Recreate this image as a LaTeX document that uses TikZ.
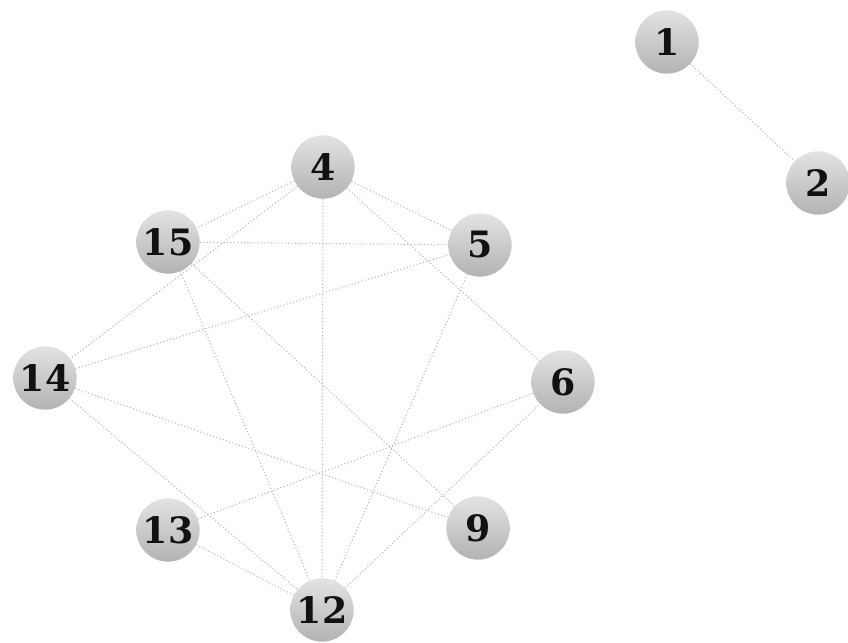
\documentclass[tikz,border=0pt]{standalone}
\usepackage{fontspec}
\setmainfont{DejaVu Serif}
\usepackage{tikz}
\usetikzlibrary{positioning}
\definecolor{ink}{HTML}{111111}
\definecolor{wire}{HTML}{B4B4B4}

\begin{document}
\begin{tikzpicture}[
  x=0.3mm,y=-0.3mm,
  vertex/.style={circle,minimum size=19mm,inner sep=0pt,top color=gray!22,
    bottom color=gray!60,text=ink,font=\fontsize{31}{31}\selectfont\bfseries},
  link/.style={wire,dotted,line width=0.9pt}]
\useasboundingbox (0,0) rectangle (848,643);
\node[vertex] (n1) at (667,42) {1};
\node[vertex] (n2) at (818,183) {2};
\node[vertex] (n4) at (323,167) {4};
\node[vertex] (n15) at (168,242) {15};
\node[vertex] (n5) at (480,245) {5};
\node[vertex] (n14) at (45,378) {14};
\node[vertex] (n6) at (563,382) {6};
\node[vertex] (n13) at (168,530) {13};
\node[vertex] (n9) at (478,528) {9};
\node[vertex] (n12) at (322,610) {12};
\draw[link] (n1) -- (n2);
\draw[link] (n4) -- (n15);
\draw[link] (n4) -- (n5);
\draw[link] (n4) -- (n6);
\draw[link] (n4) -- (n12);
\draw[link] (n4) -- (n14);
\draw[link] (n15) -- (n5);
\draw[link] (n15) -- (n12);
\draw[link] (n15) -- (n9);
\draw[link] (n14) -- (n5);
\draw[link] (n14) -- (n9);
\draw[link] (n14) -- (n12);
\draw[link] (n13) -- (n6);
\draw[link] (n13) -- (n12);
\draw[link] (n12) -- (n6);
\draw[link] (n12) -- (n5);
\end{tikzpicture}
\end{document}
